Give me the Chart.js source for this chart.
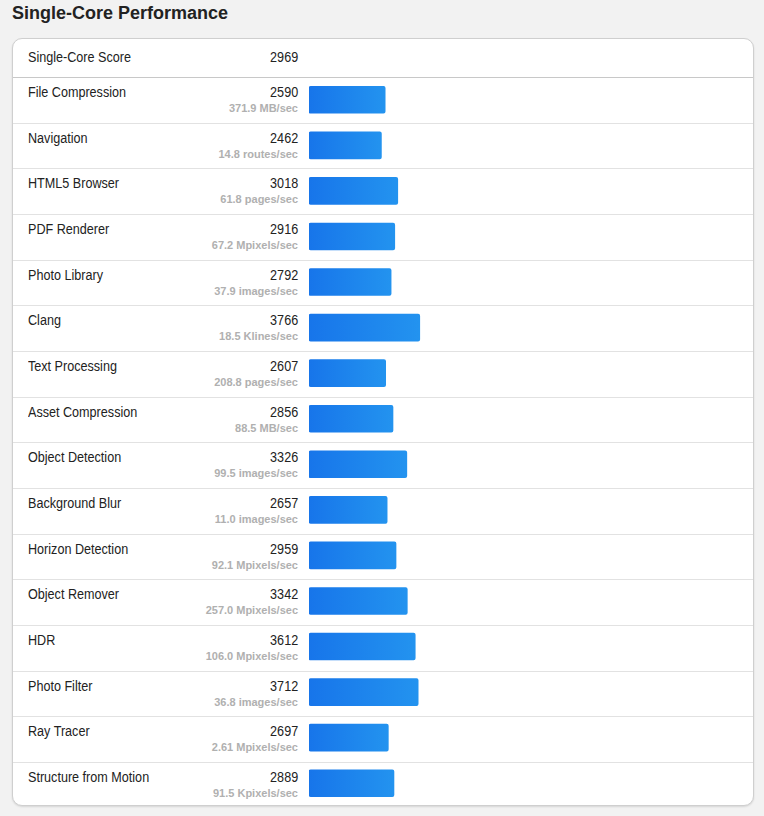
<!DOCTYPE html>
<html>
<head>
<meta charset="utf-8">
<script src="https://cdn.jsdelivr.net/npm/chart.js@4"></script>
<style>
  body { margin: 0; background: #f2f2f2; font-family: "Liberation Sans", Arial, sans-serif; color: #222; }
  #title { position: absolute; left: 12px; top: 3px; font-size: 18px; font-weight: bold; color: #222; }
  #card { position: absolute; left: 12px; top: 38px; width: 740px; height: 766px; background: #fff;
          border: 1px solid #cfcfcf; border-radius: 10px; box-shadow: 0 1px 2px rgba(0,0,0,0.12); }
  .row { position: absolute; left: 0; width: 740px; box-sizing: border-box; border-bottom: 1px solid #e2e2e2; }
  .row.head { border-bottom-color: #c8c8c8; }
  .name { position: absolute; left: 15px; font-size: 14px; line-height: 16px; white-space: nowrap;
          transform: scaleX(0.9); transform-origin: left center; }
  .score { position: absolute; right: 455px; font-size: 14px; line-height: 16px; text-align: right;
           transform: scaleX(0.9); transform-origin: right center; }
  .unit { position: absolute; right: 455px; font-size: 11px; line-height: 13px; font-weight: bold; color: #b0b0b0; text-align: right; white-space: nowrap; }
  #wrap { position: absolute; left: 309px; top: 77px; width: 440px; height: 729px; }
</style>
</head>
<body>
<div id="title">Single-Core Performance</div>
<div id="card"></div>
<div id="wrap"><canvas id="single-core-plot"></canvas></div>
<script>
const overallLabel = "Single-Core Score";
const overallScore = 2969;

const workloads = ["File Compression", "Navigation", "HTML5 Browser", "PDF Renderer", "Photo Library",
  "Clang", "Text Processing", "Asset Compression", "Object Detection", "Background Blur",
  "Horizon Detection", "Object Remover", "HDR", "Photo Filter", "Ray Tracer", "Structure from Motion"];

const scores = [2590, 2462, 3018, 2916, 2792, 3766, 2607, 2856, 3326, 2657, 2959, 3342, 3612, 3712, 2697, 2889];

const throughputs = ["371.9 MB/sec", "14.8 routes/sec", "61.8 pages/sec", "67.2 Mpixels/sec", "37.9 images/sec",
  "18.5 Klines/sec", "208.8 pages/sec", "88.5 MB/sec", "99.5 images/sec", "11.0 images/sec",
  "92.1 Mpixels/sec", "257.0 Mpixels/sec", "106.0 Mpixels/sec", "36.8 images/sec", "2.61 Mpixels/sec", "91.5 Kpixels/sec"];

// build the text rows of the card
const card = document.getElementById("card");
const headLine = 38;       // separator under the score row (card coords)
const rowH = 45.67;

function addRow(top, bottom, name, score, unit, isHead, noBorder) {
  const row = document.createElement("div");
  row.className = "row" + (isHead ? " head" : "");
  row.style.top = top + "px";
  row.style.height = (bottom - top + 1) + "px";
  if (noBorder) row.style.borderBottom = "none";
  const textTop = isHead ? 10 : 6;
  row.innerHTML =
    `<div class="name" style="top:${textTop}px">${name}</div>` +
    `<div class="score" style="top:${textTop}px">${score}</div>` +
    (unit ? `<div class="unit" style="top:24px">${unit}</div>` : "");
  card.appendChild(row);
}

addRow(0, headLine, overallLabel, overallScore, null, true, false);
workloads.forEach((w, i) => {
  const top = headLine + Math.round(i * rowH) + 1;
  const last = i === workloads.length - 1;
  const bottom = last ? 765 : headLine + Math.round((i + 1) * rowH);
  addRow(top, bottom, w, scores[i], throughputs[i], false, last);
});

// bar gradient from start of bar to its end
function barGradient(context) {
  const chart = context.chart;
  const { ctx, chartArea } = chart;
  if (!chartArea) return "#1f86ec";
  const xScale = chart.scales.x;
  const x0 = xScale.getPixelForValue(0);
  const x1 = xScale.getPixelForValue(context.raw || 1);
  const g = ctx.createLinearGradient(x0, 0, x1, 0);
  g.addColorStop(0, "#1775ea");
  g.addColorStop(1, "#2393ef");
  return g;
}

new Chart("single-core-plot", {
  type: "bar",
  data: {
    labels: workloads,
    datasets: [{
      data: scores,
      backgroundColor: barGradient,
      borderRadius: 2,
      borderSkipped: false,
      barThickness: 27
    }]
  },
  options: {
    indexAxis: "y",
    responsive: true,
    maintainAspectRatio: false,
    animation: false,
    layout: { padding: 0 },
    plugins: { legend: { display: false }, tooltip: { enabled: false } },
    scales: {
      x: { display: false, min: 0, max: 14960 },
      y: { display: false }
    }
  }
});
</script>
</body>
</html>
